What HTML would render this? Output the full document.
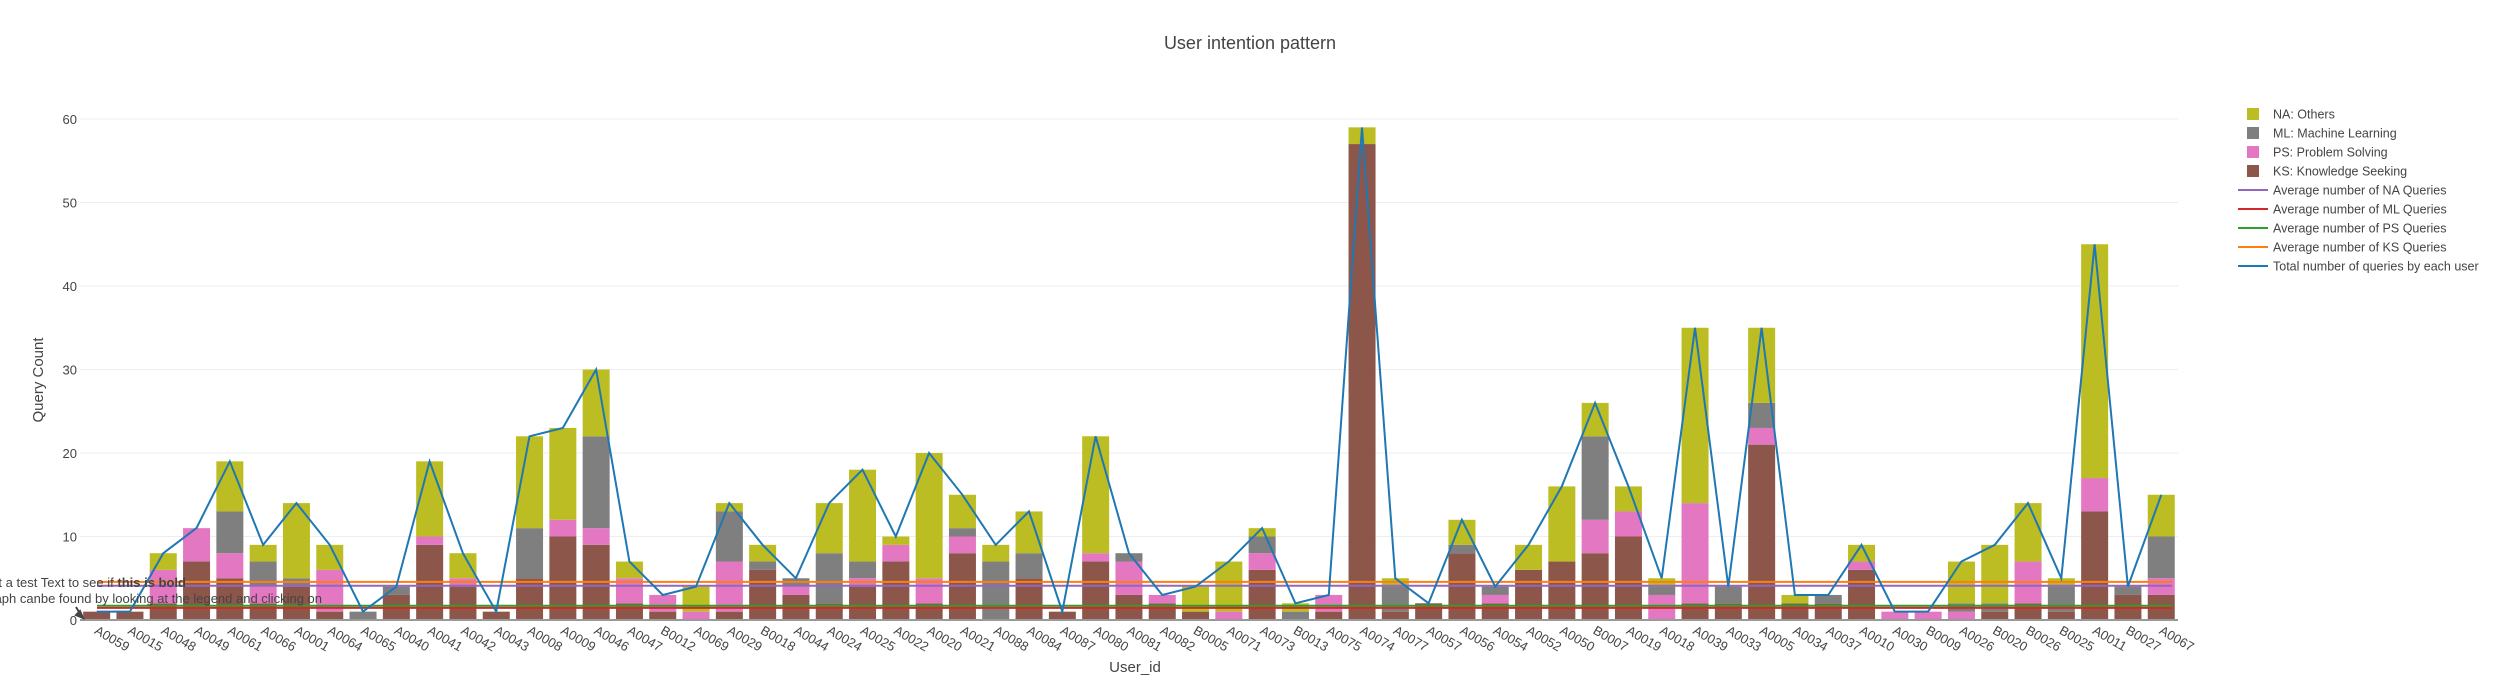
<!DOCTYPE html>
<html><head><meta charset="utf-8"><style>
html,body{margin:0;padding:0;background:#fff;}
svg{display:block;font-family:"Liberation Sans","DejaVu Sans",sans-serif;}
</style></head><body>
<svg id="s" width="2500" height="700" xmlns="http://www.w3.org/2000/svg"></svg>
<script>
const D=[
["A0059",1,0,0,0],["A0015",1,0,0,0],["A0048",2,4,0,2],["A0049",7,4,0,0],["A0061",5,3,5,6],
["A0066",2,2,3,2],["A0001",4,0,1,9],["A0064",1,5,0,3],["A0065",0,0,1,0],["A0040",3,0,1,0],
["A0041",9,1,0,9],["A0042",4,1,0,3],["A0043",1,0,0,0],["A0008",5,0,6,11],["A0009",10,2,0,11],
["A0046",9,2,11,8],["A0047",2,3,0,2],["B0012",1,2,0,0],["A0069",0,1,0,3],["A0029",1,6,6,1],
["B0018",6,0,1,2],["A0044",3,1,1,0],["A0024",2,0,6,6],["A0025",4,1,2,11],["A0022",7,2,0,1],
["A0020",2,3,0,15],["A0021",8,2,1,4],["A0088",0,0,7,2],["A0084",5,0,3,5],["A0087",1,0,0,0],
["A0080",7,1,0,14],["A0081",3,4,1,0],["A0082",2,1,0,0],["B0005",1,0,0,3],["A0071",0,1,0,6],
["A0073",6,2,2,1],["B0013",0,0,1,1],["A0075",1,2,0,0],["A0074",57,0,0,2],["A0077",1,0,3,1],
["A0057",2,0,0,0],["A0056",8,0,1,3],["A0054",2,1,1,0],["A0052",6,0,0,3],["A0050",7,0,0,9],
["B0007",8,4,10,4],["A0019",10,3,0,3],["A0018",0,3,1,1],["A0039",2,12,0,21],["A0033",2,0,2,0],
["A0005",21,2,3,9],["A0034",2,0,0,1],["A0037",2,0,1,0],["A0010",6,1,0,2],["A0030",0,1,0,0],
["B0009",0,1,0,0],["A0026",0,1,1,5],["B0020",1,0,1,7],["B0026",2,5,0,7],["B0025",1,0,3,1],
["A0011",13,4,0,28],["B0027",3,0,1,0],["A0067",3,2,5,5]];
const C={ks:"#8c564b",ps:"#e377c2",ml:"#7f7f7f",na:"#bcbd22",line:"#1f77b4"};
const y0=620,u=8.35,x0=80,step=33.3,bw=27;
const Y=v=>y0-v*u, X=i=>x0+step*(i+0.5);
let h="";
h+=`<text x="1250" y="49" text-anchor="middle" font-size="18" fill="#444">User intention pattern</text>`;
for(let v=10;v<=60;v+=10){h+=`<line x1="80" x2="2178" y1="${Y(v)}" y2="${Y(v)}" stroke="#eee" stroke-width="1"/>`;}
for(let v=0;v<=60;v+=10){h+=`<text x="77" y="${Y(v)+5}" text-anchor="end" font-size="13" fill="#444">${v}</text>`;}
h+=`<text transform="translate(43,380) rotate(-90)" text-anchor="middle" font-size="15" fill="#444">Query Count</text>`;
h+=`<text x="1135" y="672" text-anchor="middle" font-size="15" fill="#444">User_id</text>`;
D.forEach((d,i)=>{let acc=0;const cx=X(i);
 [["ks",d[1]],["ps",d[2]],["ml",d[3]],["na",d[4]]].forEach(([k,v])=>{if(v>0){h+=`<rect x="${cx-bw/2}" y="${Y(acc+v)}" width="${bw}" height="${v*u}" fill="${C[k]}"/>`;acc+=v;}});
 h+=`<text transform="translate(${cx-3},${633}) rotate(30)" font-size="13" fill="#444">${d[0]}</text>`;
});
h+=`<line x1="80" x2="2178" y1="620" y2="620" stroke="#999" stroke-width="2"/>`;
const avg=[[4.56,"#ff7f0e"],[4.1,"#9467bd"],[1.7,"#2ca02c"],[1.45,"#d62728"]];
avg.forEach(([v,c])=>{h+=`<line x1="97" x2="2172" y1="${Y(v)}" y2="${Y(v)}" stroke="${c}" stroke-width="2"/>`;});
let pts=D.map((d,i)=>`${X(i).toFixed(1)},${Y(d[1]+d[2]+d[3]+d[4]).toFixed(1)}`).join(" ");
h+=`<polyline points="${pts}" fill="none" stroke="${C.line}" stroke-width="2"/>`;
h+=`<text x="186" y="587" text-anchor="end" font-size="13" fill="#444">This is just a test Text to see if  <tspan font-weight="bold">this is bold</tspan></text>`;
h+=`<text x="322" y="603" text-anchor="end" font-size="13" fill="#444">The description of the graph canbe found by looking at the legend and clicking on</text>`;
h+=`<path d="M76,607 L82,617 M80,611 L83,618 L76,615 Z" stroke="#444" stroke-width="2" fill="#444"/>`;
const L=[["NA: Others","sq",C.na],["ML: Machine Learning","sq",C.ml],["PS: Problem Solving","sq",C.ps],["KS: Knowledge Seeking","sq",C.ks],
["Average number of NA Queries","ln","#9467bd"],["Average number of ML Queries","ln","#d62728"],["Average number of PS Queries","ln","#2ca02c"],["Average number of KS Queries","ln","#ff7f0e"],["Total number of queries by each user","ln",C.line]];
L.forEach(([t,k,c],i)=>{const yy=114+i*19;
 if(k=="sq")h+=`<rect x="2247" y="${yy-6}" width="12" height="12" fill="${c}"/>`;
 else h+=`<line x1="2238" x2="2268" y1="${yy}" y2="${yy}" stroke="${c}" stroke-width="2"/>`;
 h+=`<text x="2273" y="${yy+4.5}" font-size="12.5" fill="#444">${t}</text>`;});
document.getElementById("s").innerHTML=h;
</script>
</body></html>
